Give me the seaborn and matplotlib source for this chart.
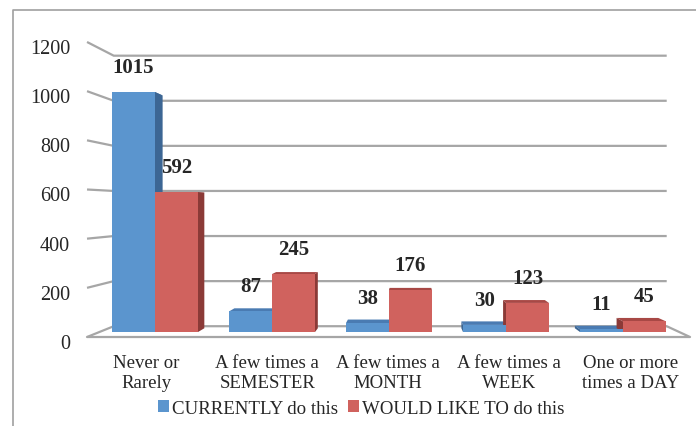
import numpy as np
import pandas as pd
import matplotlib
matplotlib.use('Agg')
import matplotlib.pyplot as plt
from matplotlib.patches import Polygon
from matplotlib.lines import Line2D
from matplotlib.transforms import ScaledTranslation
import seaborn as sns

# Данные
categories = ['Never or\nRarely', 'A few times a\nSEMESTER', 'A few times a\nMONTH',
              'A few times a\nWEEK', 'One or more\ntimes a DAY']
series_names = ['CURRENTLY do this', 'WOULD LIKE TO do this']
currently = [1015, 87, 38, 30, 11]
would_like = [592, 245, 176, 123, 45]
y_ticks = [0, 200, 400, 600, 800, 1000, 1200]

# Оформление
front_colors = ['#5B95CE', '#D0625E']
side_colors = ['#3C6694', '#8B3A37']
top_colors = ['#4A7BB2', '#A84845']
grid_color = '#A6A6A6'

# Псевдо-3D: точка схода и глубина (в координатах данных)
VP = (2.17, 528.6)
WALL_S = 0.917
BAR_S = 0.97
WALL_X = (-0.581, 4.573)


def wall_front_y(v):
    return -21.1 + 1.0397 * v


def to_back(x, y, s):
    return (VP[0] + s * (x - VP[0]), VP[1] + s * (y - VP[1]))


df = pd.DataFrame({
    'category': categories * 2,
    'series': [series_names[0]] * 5 + [series_names[1]] * 5,
    'count': currently + would_like,
})

sns.set_style('white')
plt.rcParams['font.family'] = ['Liberation Serif', 'DejaVu Serif']

fig = plt.figure(figsize=(6.96, 4.27), dpi=100)
ax = fig.add_axes([0.12184, 0.2035, 0.87414, 0.70326])

sns.barplot(data=df, x='category', y='count', hue='series', order=categories,
            hue_order=series_names, palette=front_colors, width=0.735,
            saturation=1, linewidth=0, ax=ax, zorder=3)

ax.set_xlim(-0.6, 4.6)
ax.set_ylim(-30, 1240)
for s in ax.spines.values():
    s.set_visible(False)

# Сетка на задней стенке + наклонные линии боковой стенки
for v in y_ticks:
    fy = wall_front_y(v)
    bl = to_back(WALL_X[0], fy, WALL_S)
    br = to_back(WALL_X[1], fy, WALL_S)
    ax.plot([WALL_X[0], bl[0], br[0]], [fy, bl[1], br[1]], color=grid_color,
            lw=1.6, clip_on=False, zorder=0.5, solid_capstyle='butt')
# передний край пола
fy0 = wall_front_y(0)
br0 = to_back(WALL_X[1], fy0, WALL_S)
ax.plot([WALL_X[0], WALL_X[1], br0[0]], [fy0, fy0, br0[1]], color=grid_color,
        lw=1.6, clip_on=False, zorder=0.5)

# Боковые и верхние грани столбцов
for k, cont in enumerate(ax.containers):
    for rect in cont.patches:
        x0 = rect.get_x()
        x1 = x0 + rect.get_width()
        h = rect.get_height()
        b = [to_back(x, y, BAR_S) for x, y in [(x0, 0), (x1, 0), (x1, h), (x0, h)]]
        top = Polygon([(x0, h), (x1, h), b[2], b[3]], closed=True,
                      facecolor=top_colors[k], edgecolor='none', zorder=2)
        ax.add_patch(top)
        if (x0 + x1) / 2 < VP[0]:
            side = [(x1, 0), (x1, h), b[2], b[1]]
        else:
            side = [(x0, 0), (x0, h), b[3], b[0]]
        ax.add_patch(Polygon(side, closed=True, facecolor=side_colors[k],
                             edgecolor='none', zorder=2))
    ax.bar_label(cont, padding=11, fontsize=15, fontweight='bold')

# Подписи осей (подписи категорий - на переднем краю пола)
pos = np.arange(len(categories))
ax.set_yticks([wall_front_y(v) for v in y_ticks], labels=[str(v) for v in y_ticks])
ax.set_xticks(VP[0] + (pos - VP[0]) * 1.035, labels=categories)
ax.tick_params(axis='y', length=0, pad=10.5, labelsize=14.5)
ax.tick_params(axis='x', length=0, pad=10.5, labelsize=13.5)
for lab in ax.get_yticklabels():
    lab.set_transform(lab.get_transform() + ScaledTranslation(0, -0.04, fig.dpi_scale_trans))
for lab in ax.get_xticklabels():
    lab.set_linespacing(1.22)
ax.set_xlabel('')
ax.set_ylabel('')

sns.move_legend(ax, 'center', bbox_to_anchor=(0.519, 0.041),
                bbox_transform=fig.transFigure, ncol=2, frameon=False, title=None,
                fontsize=13.6, handlelength=0.6, handleheight=0.6,
                handletextpad=0.15, columnspacing=0.5)

# Рамка области диаграммы
fig.add_artist(Line2D([13 / 696, 13 / 696, 1], [0, 1 - 11 / 427, 1 - 11 / 427],
                      transform=fig.transFigure, color='#A0A0A0', lw=1.2))

fig.savefig('out.png', dpi=100)
